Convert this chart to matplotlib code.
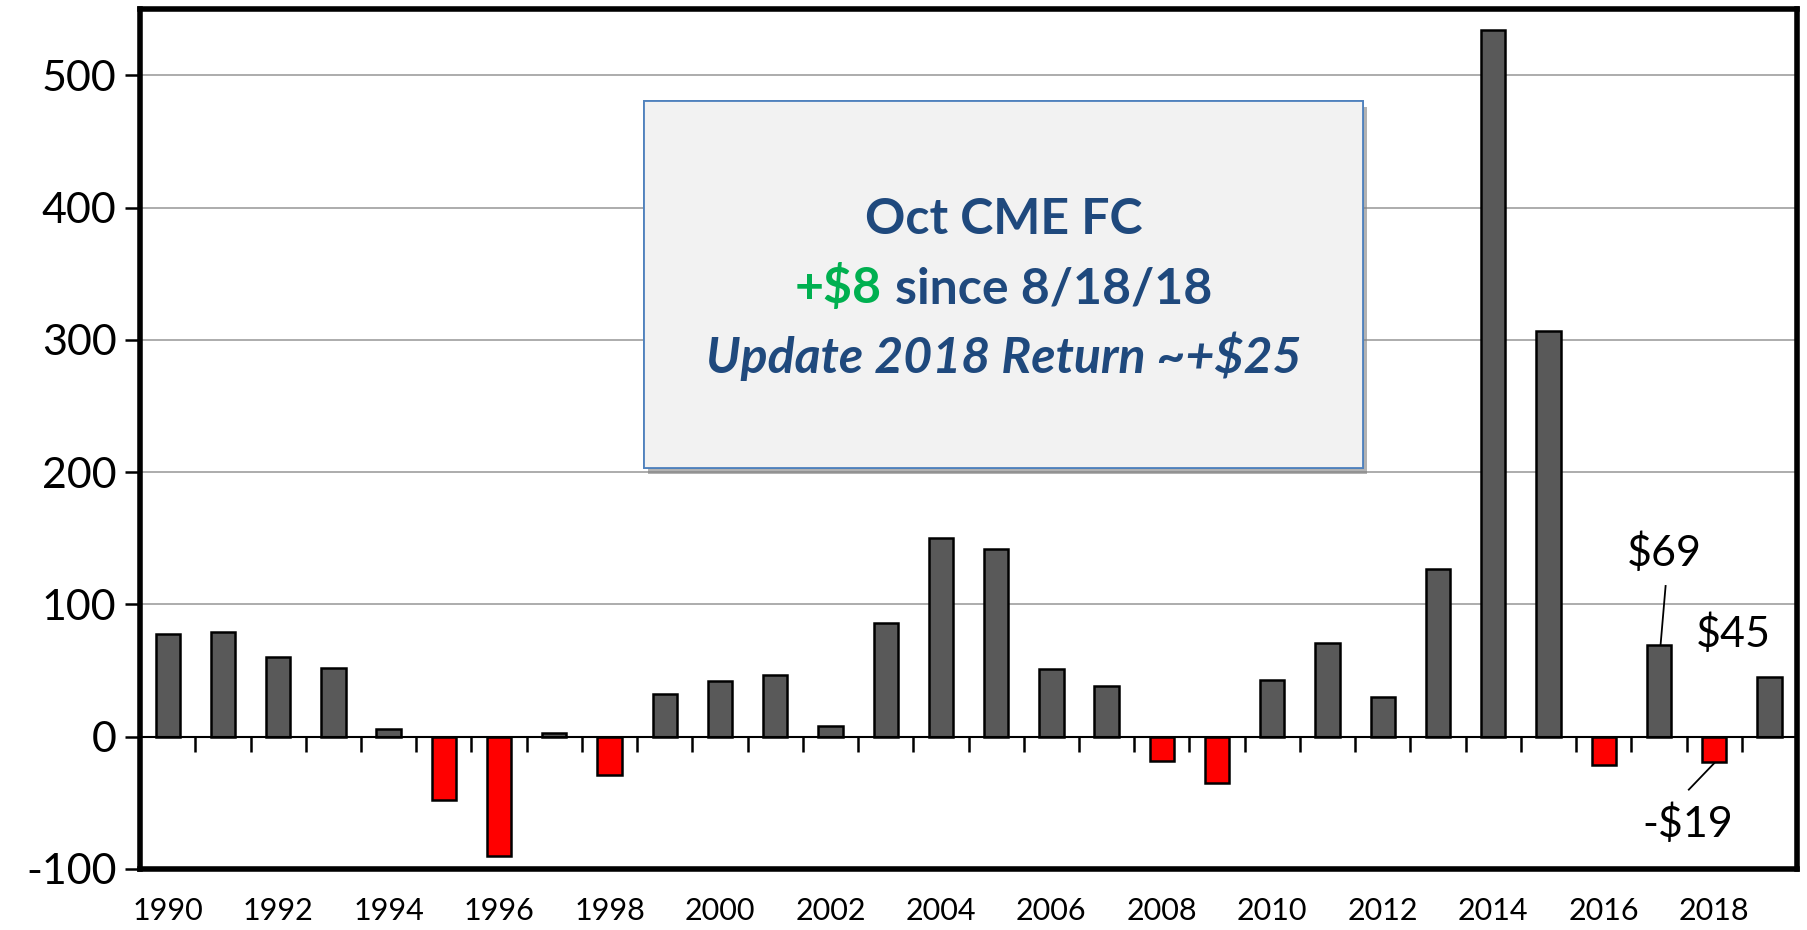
import matplotlib.pyplot as plt
import matplotlib.patheffects as pe
from matplotlib.patches import Rectangle
from matplotlib.offsetbox import TextArea, HPacker, AnnotationBbox
import numpy as np

plt.rcParams['font.family'] = ['Lato', 'DejaVu Sans']
plt.rcParams['axes.unicode_minus'] = False

years = list(range(1990, 2020))
returns = [78, 79, 60, 52, 6, -48, -90, 3, -29, 32,
           42, 47, 8, 86, 150, 142, 51, 38, -18, -35,
           43, 71, 30, 127, 534, 307, -21, 69, -19, 45]
tick_years = [str(y) for y in range(1990, 2020, 2)]

box_title = "Oct CME FC"
box_change = "+$8"
box_since = "since 8/18/18"
box_update = "Update 2018 Return ~+$25"

gray = '#595959'
red = '#FF0000'
navy = '#1F497D'
green = '#00B050'

fig = plt.figure(figsize=(18.07, 9.30), dpi=100)
ax = fig.add_axes([0.0775, 0.0656, 0.917, 0.9244])

x = np.arange(len(years))
colors = [red if v < 0 else gray for v in returns]
ax.bar(x, returns, width=0.44, color=colors, edgecolor='black', linewidth=1.8, zorder=3)

ax.set_xlim(-0.5, len(years) - 0.5)
ax.set_ylim(-100, 550)

# gridlines + zero axis
ax.set_yticks(range(-100, 600, 100))
ax.yaxis.grid(True, color='#A6A6A6', linewidth=1.3, zorder=0)
ax.set_axisbelow(True)
ax.axhline(0, color='black', linewidth=1.5, zorder=4)
# category separators on the zero line
ax.plot(x[:-1] + 0.5, np.zeros(len(x) - 1), linestyle='none', marker=3,
        markersize=11, markeredgewidth=1.8, color='black', zorder=4, clip_on=False)

for s in ax.spines.values():
    s.set_linewidth(4)
    s.set_zorder(6)

ax.set_xticks(x[::2])
ax.set_xticklabels(tick_years, fontsize=22)
ax.tick_params(axis='x', length=0, pad=20)
ax.tick_params(axis='y', length=11, width=1.8, labelsize=31, pad=6)

# text box
box = Rectangle((0.304, 0.466), 0.434, 0.427, transform=ax.transAxes,
                facecolor='#F2F2F2', edgecolor='#4F81BD', linewidth=1.3, zorder=5,
                path_effects=[pe.withSimplePatchShadow(offset=(3, -4), shadow_rgbFace='#808080', alpha=0.6),
                              pe.Normal()])
ax.add_patch(box)

fs = 36
ax.text(0.521, 0.756, box_title, transform=ax.transAxes, ha='center', va='center',
        fontsize=fs, fontweight='bold', color=navy, zorder=7)
line2 = HPacker(children=[TextArea(box_change, textprops=dict(fontsize=fs, fontweight='bold', color=green)),
                          TextArea(box_since, textprops=dict(fontsize=fs, fontweight='bold', color=navy))],
                align='baseline', pad=0, sep=10)
ab = AnnotationBbox(line2, (0.521, 0.676), xycoords='axes fraction', frameon=False,
                    box_alignment=(0.5, 0.5), zorder=7)
ax.add_artist(ab)
ax.text(0.521, 0.596, box_update, transform=ax.transAxes, ha='center', va='center',
        fontsize=fs, fontweight='bold', fontstyle='italic', color=navy, zorder=7)

# callouts
ax.text(27.1, 139, "$69", ha='center', va='center', fontsize=31, zorder=7)
ax.plot([27.12, 27.03], [114, 70], color='black', linewidth=1.3, zorder=7)
ax.text(28.34, 78, "$45", ha='center', va='center', fontsize=31, zorder=7)
ax.text(27.52, -66, "-$19", ha='center', va='center', fontsize=31, zorder=7)
ax.plot([28.0, 27.54], [-20, -40], color='black', linewidth=1.3, zorder=7)

fig.savefig('out.png', dpi=100)
